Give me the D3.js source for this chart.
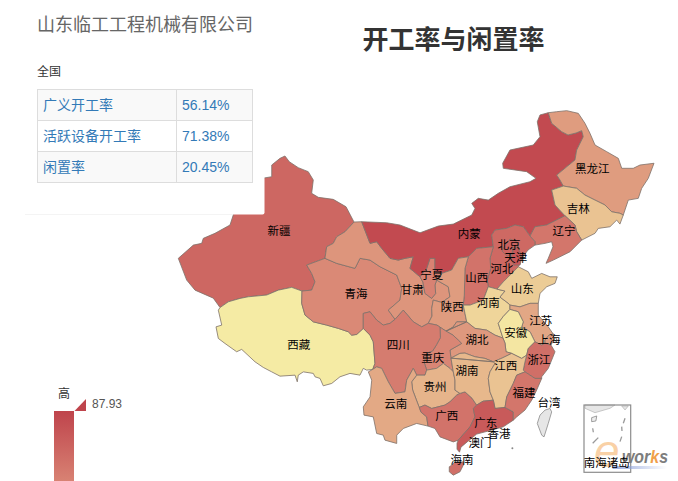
<!DOCTYPE html>
<html lang="zh">
<head>
    <meta charset="UTF-8">
    <title>开工率与闲置率</title>
    <script src="https://d3js.org/d3.v7.min.js"></script>
    <style>
        html, body { margin: 0; padding: 0; background: #fff; overflow: hidden; }
        svg { display: block; }
        text { font-family: "Liberation Sans", "Noto Sans CJK SC", sans-serif; }
    </style>
</head>
<body>
    <div id="chart"></div>

    <script>
        const companyName = "山东临工工程机械有限公司";
        const chartTitle = "开工率与闲置率";
        const scopeLabel = "全国";
        const tableLabels = ["广义开工率", "活跃设备开工率", "闲置率"];
        const tableValues = ["56.14%", "71.38%", "20.45%"];

        const legendMax = 87.93;
        const legendMin = 30;
        const legendColors = ["#f6efa6", "#d88273", "#bf444c"];

        // Shared borders, [lon, lat]
        const xjGs = [[96.24,42.77],[95.08,41.82],[94.0,41.33],[93.56,40.69],[92.71,40.36],[92.49,39.23]];
        const xjQh = [[92.49,39.23],[90.13,38.57],[90.77,37.76],[91.2,36.94],[90.77,36.13],[89.52,36.04]];
        const xjXz = [[89.52,36.04],[88.19,36.4],[86.46,36.13],[84.96,35.65],[82.58,35.48],[81.51,35.32],[80.0,34.99],[78.93,34.43]];
        const xjOuter = [[78.93,34.43],[78.06,35.35],[75.7,36.13],[74.62,37.11],[73.54,39.23],[75.48,40.52],[76.56,40.69],[76.77,41.18],[78.28,41.67],[80.22,42.48],[80.64,43.45],[80.48,45.3],[82.54,45.6],[82.41,47.06],[84.61,47.06],[85.61,47.19],[85.61,48.33],[86.68,48.98],[87.32,49.21],[87.88,48.65],[89.04,48.07],[90.33,47.68],[90.98,46.87],[90.77,45.57],[91.63,45.18],[93.56,44.98],[95.21,44.26],[96.24,42.77]];
        const gsMongolia = [[96.24,42.77],[97.23,42.8]];
        const gsIm = [[97.23,42.8],[98.31,40.69],[99.17,40.85],[99.82,40.2],[100.89,39.23],[101.96,39.06],[102.83,39.23],[103.9,39.38],[103.47,38.25],[104.77,37.43]];
        const imNx = [[104.77,37.43],[105.63,38.25],[106.06,39.23],[106.7,39.23],[106.7,37.92],[107.57,37.76]];
        const gsNx = [[104.77,37.43],[105.15,36.91],[105.41,35.81],[106.28,35.32],[106.79,35.81],[106.7,36.62],[106.92,37.11]];
        const nxSn = [[106.92,37.11],[107.57,37.76]];
        const gsSn = [[106.92,37.11],[108.42,36.46],[108.64,35.48],[107.57,34.93],[106.48,35.16],[106.28,34.35],[106.32,33.6],[105.84,32.89]];
        const gsQh = [[92.49,39.23],[94.0,38.74],[96.37,38.25],[97.01,39.23],[98.31,39.06],[99.6,38.41],[101.76,37.6],[102.4,36.3],[102.18,35.16],[100.67,34.18],[101.54,33.28]];
        const gsSc = [[101.54,33.28],[102.61,34.18],[103.9,33.04],[104.99,32.55],[105.84,32.89]];
        const qhSc = [[101.54,33.28],[100.89,32.89],[100.02,32.72],[99.17,33.21],[98.31,34.02],[97.44,33.86],[97.44,32.4]];
        const qhXz = [[89.52,36.04],[89.48,34.84],[89.91,33.7],[90.98,33.04],[92.71,32.72],[94.21,32.4],[95.5,32.07],[95.94,31.74],[96.59,31.81],[97.44,32.4]];
        const xzSc = [[97.44,32.4],[98.31,31.74],[98.73,31.09],[98.95,28.98],[98.66,28.4]];
        const xzOuter = [[98.66,28.4],[97.88,28.33],[97.44,28.5],[97.01,27.84],[95.72,28.01],[94.43,27.68],[93.36,27.03],[92.27,26.8],[91.85,27.52],[91.2,27.68],[90.98,28.01],[89.69,28.16],[89.04,27.84],[88.91,27.19],[88.62,27.84],[86.68,27.74],[85.61,28.16],[84.52,28.59],[83.45,29.14],[81.73,30.35],[81.08,30.12],[79.57,30.93],[78.71,31.42],[78.41,32.55],[79.15,32.72],[78.71,34.18],[78.93,34.43]];
        const imNorth = [[97.23,42.8],[100.46,42.7],[102.18,42.48],[104.77,41.72],[107.13,42.38],[109.07,42.57],[111.45,43.45],[111.87,44.1],[111.45,44.59],[112.3,45.08],[113.59,44.91],[114.88,45.57],[116.39,46.21],[118.98,46.7],[119.75,47.03],[118.55,47.68],[115.53,48.01],[115.45,48.5],[116.39,49.79],[119.4,50.28],[120.27,51.09],[119.92,52.55],[120.27,53.21],[121.34,53.43]];
        const imHlj = [[121.34,53.43],[121.78,52.4],[123.07,51.58],[123.89,51.26],[124.92,51.45],[125.66,51.68],[125.86,51.09],[125.01,49.79],[124.79,48.82],[122.43,47.35],[122.85,46.87],[123.28,46.28]];
        const imJl = [[123.28,46.28],[121.78,45.89],[122.21,44.43],[123.5,43.38]];
        const imLn = [[123.5,43.38],[121.14,42.48],[119.62,42.31],[118.98,41.4]];
        const imHb = [[118.98,41.4],[118.11,42.31],[117.04,42.48],[115.97,42.15],[114.46,41.99],[114.03,41.5],[114.24,40.36]];
        const imSx = [[114.24,40.36],[112.09,40.2],[111.01,39.38]];
        const imSn = [[111.01,39.38],[109.71,39.23],[108.86,38.09],[107.57,37.76]];
        const hljOuter = [[121.34,53.43],[122.43,53.53],[123.72,53.63],[125.22,53.37],[126.08,52.4],[126.73,51.42],[127.38,50.28],[128.89,49.63],[130.39,48.98],[130.83,48.01],[132.32,48.01],[133.19,48.33],[135.0,48.5],[134.26,47.03],[133.41,46.06],[132.97,45.08],[131.68,44.91],[131.03,43.45]];
        const hljJl = [[131.03,43.45],[130.6,43.62],[129.53,43.77],[128.67,44.43],[127.38,44.91],[126.08,45.4],[125.01,46.06],[123.28,46.28]];
        const jlSea = [[131.03,43.45],[130.6,42.57],[130.18,42.96],[129.31,42.31],[127.8,42.15],[127.38,41.67],[125.66,41.01]];
        const jlLn = [[125.66,41.01],[125.01,41.82],[124.79,42.48],[123.5,43.38]];
        const lnSea = [[125.66,41.01],[124.15,39.87],[121.99,39.06],[121.05,38.74],[121.34,39.23],[121.95,40.36],[121.78,40.85],[120.92,40.69],[119.62,40.52]];
        const lnHb = [[119.62,40.52],[119.62,40.85],[118.98,41.4]];
        const hbSea = [[119.62,40.52],[118.72,40.04],[117.91,39.23],[117.47,38.41]];
        const hbSd = [[117.47,38.41],[115.53,36.94],[114.71,36.23]];
        const hbHn = [[114.71,36.23],[113.59,36.46]];
        const hbSx = [[113.59,36.46],[113.46,37.11],[113.9,38.25],[113.81,39.23],[114.24,40.36]];
        const sxHn = [[113.59,36.46],[112.94,35.16],[111.23,34.67],[110.36,34.67]];
        const sxSn = [[110.36,34.67],[110.49,35.65],[110.58,38.25],[111.01,39.38]];
        const scSn = [[105.84,32.89],[106.96,32.72],[107.35,32.52]];
        const snCq = [[107.35,32.52],[108.13,32.13]];
        const snHb = [[108.13,32.13],[109.03,32.52],[109.51,33.04],[110.8,33.04]];
        const snHn = [[110.8,33.04],[110.58,33.86],[110.36,34.67]];
        const sdHn = [[114.71,36.23],[115.75,36.04],[115.1,35.45],[116.14,34.87],[116.39,34.67]];
        const jsHn = [[116.39,34.67],[116.39,34.25]];
        const ahHn = [[116.39,34.25],[115.49,33.53],[114.88,32.89],[115.49,31.45]];
        const hnHb = [[115.49,31.45],[114.46,31.74],[113.38,32.23],[111.87,32.4],[110.8,33.04]];
        const sdSea = [[117.47,38.41],[118.76,37.92],[119.2,37.28],[120.49,37.76],[121.56,37.43],[122.5,37.43],[122.21,36.79],[121.14,36.46],[120.27,35.81],[120.05,34.84]];
        const sdJs = [[120.05,34.84],[118.98,34.84],[117.69,34.5],[116.39,34.67]];
        const jsSea = [[120.05,34.84],[120.05,33.7],[121.34,32.55],[121.99,31.84]];
        const jsSh = [[121.99,31.84],[121.43,31.74],[120.92,31.26],[120.92,30.96]];
        const jsZj = [[120.92,30.96],[120.49,30.77],[119.62,31.09]];
        const jsAh = [[119.62,31.09],[118.98,32.07],[117.91,32.55],[118.11,33.04],[117.47,34.02],[116.39,34.25]];
        const shSea = [[121.99,31.84],[122.08,31.35],[121.69,30.77],[120.92,30.96]];
        const ahZj = [[119.62,31.09],[118.76,30.45],[118.55,29.79]];
        const ahJx = [[118.55,29.79],[117.91,29.47],[116.61,29.96]];
        const ahHb = [[116.61,29.96],[115.88,30.12],[115.75,30.96],[115.49,31.45]];
        const hbJx = [[116.61,29.96],[115.36,29.5],[114.24,29.14]];
        const hbHun = [[114.24,29.14],[113.16,29.47],[111.87,29.63],[110.58,29.99],[109.93,29.96],[108.77,29.5]];
        const hbCq = [[108.77,29.5],[108.64,30.28],[110.15,30.93],[109.71,31.26],[109.03,31.74],[108.13,32.13]];
        const cqHun = [[108.77,29.5],[109.07,28.16]];
        const cqGz = [[109.07,28.16],[108.64,28.5],[107.78,28.98],[106.92,28.5],[105.63,28.33]];
        const scCq = [[105.63,28.33],[105.3,29.1],[105.7,30.0],[106.4,30.2],[106.9,30.8],[107.4,31.5],[107.35,32.52]];
        const scGz = [[105.63,28.33],[105.41,27.84],[104.34,27.84]];
        const scYn = [[98.66,28.4],[99.17,28.65],[99.82,28.5],[100.67,27.19],[101.54,26.06],[102.83,26.21],[103.05,27.35],[103.9,28.5],[104.34,27.84]];
        const gzHun = [[109.07,28.16],[109.29,27.35],[109.29,26.38],[109.93,26.06]];
        const gzGx = [[109.93,26.06],[109.51,25.89],[108.64,25.24],[108.0,24.92],[106.28,24.59],[105.41,24.92],[104.68,24.69]];
        const gzYn = [[104.68,24.69],[104.55,24.92],[103.82,26.38],[103.69,27.19],[104.34,27.84]];
        const ynGx = [[104.68,24.69],[104.9,24.23],[105.63,23.77],[105.8,22.87]];
        const ynOuter = [[105.8,22.87],[104.34,23.13],[102.61,22.64],[101.76,21.99],[101.76,21.18],[100.24,21.5],[100.02,21.99],[99.17,22.15],[98.73,23.77],[97.53,23.94],[97.44,24.75],[98.31,25.72],[98.53,27.35],[98.09,28.16],[98.66,28.4]];
        const gxHun = [[109.93,26.06],[110.58,26.21],[111.48,25.6],[112.09,24.92]];
        const gxGd = [[112.09,24.92],[111.65,24.59],[111.87,23.77],[111.23,22.8],[109.71,21.5]];
        const gxSea = [[109.71,21.5],[109.07,21.33],[107.35,21.82],[106.7,22.64],[105.8,22.87]];
        const gdHun = [[112.09,24.92],[112.91,25.3],[114.24,25.4]];
        const jxHun = [[114.24,25.4],[113.81,26.21],[113.59,27.52],[113.81,28.16],[114.46,28.98],[114.24,29.14]];
        const jxZj = [[118.55,29.79],[118.33,29.14],[118.11,28.33],[118.33,28.16]];
        const jxFj = [[118.33,28.16],[117.26,27.84],[116.82,27.03],[115.97,25.72],[115.75,24.69]];
        const jxGd = [[115.75,24.69],[114.46,24.59],[114.24,25.4]];
        const fjGd = [[115.75,24.69],[116.82,24.26],[116.82,23.45]];
        const gdSea = [[116.82,23.45],[115.53,22.8],[114.03,22.48],[112.09,22.09],[110.97,21.4],[110.06,20.82],[109.87,20.33],[109.55,20.62],[109.55,21.21],[109.71,21.5]];
        const fjSea = [[116.82,23.45],[117.26,23.77],[118.33,24.43],[119.2,25.4],[119.84,26.38],[120.49,27.52]];
        const fjZj = [[120.49,27.52],[119.62,27.52],[118.33,28.16]];
        const zjSea = [[121.69,30.77],[122.21,30.12],[121.78,29.31],[121.34,28.5],[120.49,27.68],[120.49,27.52]];

        const rev = a => a.slice().reverse();

        const regionNames = ["新疆", "西藏", "青海", "甘肃", "宁夏", "内蒙古", "黑龙江", "吉林", "辽宁", "河北", "北京", "天津", "山西", "陕西", "河南", "山东", "江苏", "上海", "安徽", "浙江", "湖北", "重庆", "四川", "贵州", "云南", "广西", "湖南", "江西", "广东", "福建", "海南", "台湾"];
        const regionValues = [71.7, 31, 57, 54, 59, 85, 52, 41.6, 64.8, 70.5, 73.4, 79, 66, 52, 37, 39.3, 49, 52, 32.3, 67.7, 53, 58, 62, 45.6, 48.5, 66, 44.5, 41.6, 77.5, 64.8, 67.7, null];
        const regionRings = [
            [...xjGs, ...xjQh, ...xjXz, ...xjOuter],
            [...qhXz, ...xzSc, ...xzOuter, ...rev(xjXz)],
            [...gsQh, ...qhSc, ...rev(qhXz), ...rev(xjQh)],
            [...gsMongolia, ...gsIm, ...gsNx, ...gsSn, ...rev(gsSc), ...rev(gsQh), ...rev(xjGs)],
            [...imNx, ...rev(nxSn), ...rev(gsNx)],
            [...imNorth, ...imHlj, ...imJl, ...imLn, ...imHb, ...imSx, ...imSn, ...rev(imNx), ...rev(gsIm)],
            [...hljOuter, ...hljJl, ...rev(imHlj)],
            [...rev(hljJl), ...jlSea, ...jlLn, ...rev(imJl)],
            [...rev(jlLn), ...lnSea, ...lnHb, ...rev(imLn)],
            [...rev(lnHb), ...hbSea, ...hbSd, ...hbHn, ...hbSx, ...rev(imHb)],
            [[115.75,40.52],[116.39,41.11],[117.17,40.91],[117.49,40.33],[116.78,40.23],[116.65,39.65],[116.01,39.45],[115.36,39.94]],
            [[116.78,40.23],[117.3,40.33],[117.69,39.84],[117.91,39.23],[117.69,38.57],[116.91,38.57],[116.52,39.26],[116.78,39.84]],
            [...rev(hbSx), ...sxHn, ...sxSn, ...rev(imSx)],
            [...imSn, ...nxSn, ...gsSn, ...scSn, ...snCq, ...snHb, ...snHn, ...sxSn],
            [...rev(hbHn), ...sdHn, ...jsHn, ...ahHn, ...hnHb, ...snHn, ...rev(sxHn)],
            [...sdSea, ...sdJs, ...rev(sdHn), ...rev(hbSd)],
            [...jsSea, ...jsSh, ...jsZj, ...jsAh, ...rev(jsHn), ...rev(sdJs)],
            [...rev(jsSh), ...shSea],
            [...rev(jsAh), ...ahZj, ...ahJx, ...ahHb, ...rev(ahHn)],
            [...rev(jsZj), ...zjSea, ...fjZj, ...rev(jxZj), ...rev(ahZj)],
            [...rev(ahHb), ...hbJx, ...hbHun, ...hbCq, ...rev(snHb), ...rev(hnHb)],
            [...snCq, ...rev(hbCq), ...cqHun, ...cqGz, ...scCq],
            [...gsSc, ...scSn, ...rev(scCq), ...scGz, ...rev(scYn), ...rev(xzSc), ...rev(qhSc)],
            [...rev(scGz), ...rev(cqGz), ...gzHun, ...gzGx, ...gzYn],
            [...scYn, ...rev(gzYn), ...ynGx, ...ynOuter],
            [...rev(gzGx), ...gxHun, ...gxGd, ...gxSea, ...rev(ynGx)],
            [...rev(hbHun), ...cqHun, ...gzHun, ...gxHun, ...gdHun, ...jxHun],
            [...rev(ahJx), ...jxZj, ...jxFj, ...jxGd, ...jxHun, ...rev(hbJx)],
            [...gdHun, ...rev(jxGd), ...fjGd, ...gdSea, ...rev(gxGd)],
            [...jxFj, ...fjGd, ...fjSea, ...fjZj],
            [[108.86,19.06],[109.29,19.38],[110.36,19.38],[110.36,19.06],[109.93,18.41],[109.07,18.09],[108.55,18.41],[108.55,18.9]],
            [[121.56,24.59],[121.78,24.26],[121.34,23.13],[120.79,21.82],[120.49,21.99],[119.92,23.13],[120.27,23.94],[120.92,24.43]]
        ];

        const labelNames = ["新疆", "西藏", "青海", "甘肃", "内蒙", "黑龙江", "吉林", "辽宁", "北京", "天津", "河北", "山西", "宁夏", "陕西", "河南", "山东", "江苏", "安徽", "上海", "浙江", "江西", "湖北", "湖南", "重庆", "四川", "贵州", "云南", "广西", "广东", "香港", "澳门", "海南", "福建", "台湾", "南海诸岛"];
        const labelLons = [86.55, 89.09, 96.5, 103.77, 111.14, 127.03, 125.22, 123.37, 116.27, 117.13, 115.36, 112.09, 106.28, 108.94, 113.59, 117.98, 120.36, 117.13, 121.43, 120.14, 115.84, 112.13, 110.84, 106.41, 101.96, 106.7, 101.63, 108.22, 113.25, 114.97, 112.52, 110.19, 118.2, 121.43, 128.89];
        const labelLats = [41.89, 30.77, 35.79, 36.13, 41.57, 47.94, 44.07, 41.92, 40.59, 39.32, 38.18, 37.33, 37.6, 34.45, 34.9, 36.23, 33.14, 31.97, 31.32, 29.31, 28.72, 31.26, 28.26, 29.57, 30.77, 26.7, 25.08, 23.87, 23.16, 22.09, 21.21, 19.55, 26.11, 25.14, 19.29];

        // South China Sea inset, [lon, lat]
        const insetLand = [[[105.85,25],[105.85,23.87],[109.39,22.37],[114.7,23.87],[116.45,25]], [[118.82,24.66],[120,23.3],[121.15,24.66]]];
        const insetIsland = [[108.2,20.67],[110,21.25],[109.7,19.54],[108.2,19.3]];
        const insetDashes = [[[108.57,17.05],[108.79,15.68]], [[108.57,11.93],[110.55,13.84]], [[120,20.46],[119.39,18.75]], [[118.82,17.6],[118.93,16.13]], [[118.82,14.18],[118.22,12.47]]];

        const width = 678, height = 481;

        const svg = d3.select("#chart")
            .append("svg")
            .attr("width", width)
            .attr("height", height);

        const x = d3.scaleLinear().domain([73.5, 135]).range([178, 654]);
        const y = d3.scaleLinear().domain([53.5, 18.2]).range([112, 474]);

        const color = d3.scaleLinear()
            .domain([legendMin, (legendMin + legendMax) / 2, legendMax])
            .range(legendColors);

        const ringPath = d3.line().x(d => x(d[0])).y(d => y(d[1])).curve(d3.curveLinearClosed);

        // Map
        svg.append("g")
            .selectAll("path")
            .data(regionRings)
            .join("path")
            .attr("d", d => ringPath(d))
            .attr("fill", (d, i) => regionValues[i] === null ? "#e6e6e6" : color(regionValues[i]))
            .attr("stroke", (d, i) => regionValues[i] === null ? "#8a8a8a" : "#7d716a")
            .attr("stroke-width", 0.8)
            .attr("stroke-linejoin", "round");

        svg.append("circle")
            .attr("cx", x(116.7))
            .attr("cy", y(20.7))
            .attr("r", 1)
            .attr("fill", "#888");

        // Panel sits on top of the map, it cuts off the corner of Xinjiang
        svg.append("rect")
            .attr("x", 0).attr("y", 0)
            .attr("width", 264.5).attr("height", 214.5)
            .attr("rx", 2)
            .attr("fill", "#fff");
        svg.append("line")
            .attr("x1", 25).attr("x2", 233)
            .attr("y1", 214.5).attr("y2", 214.5)
            .attr("stroke", "#f4f4f4");

        svg.append("text")
            .attr("x", 37).attr("y", 31)
            .attr("font-size", 18)
            .attr("fill", "#666")
            .text(companyName);

        svg.append("text")
            .attr("x", 453.5).attr("y", 48.5)
            .attr("text-anchor", "middle")
            .attr("font-size", 26)
            .attr("font-weight", "bold")
            .attr("fill", "#333")
            .text(chartTitle);

        svg.append("text")
            .attr("x", 37).attr("y", 75.5)
            .attr("font-size", 12)
            .attr("fill", "#333")
            .text(scopeLabel);

        // Table
        const rowY = d3.scaleBand().domain(tableLabels).range([89.5, 182.5]);
        const rows = svg.append("g")
            .selectAll("g")
            .data(tableLabels)
            .join("g")
            .attr("transform", d => `translate(0,${rowY(d)})`);
        rows.append("rect")
            .attr("x", 37.5).attr("width", 215)
            .attr("height", rowY.bandwidth())
            .attr("fill", (d, i) => i % 2 === 0 ? "#f9f9f9" : "#fff")
            .attr("stroke", "#ddd");
        rows.append("line")
            .attr("x1", 176.5).attr("x2", 176.5)
            .attr("y1", 0).attr("y2", rowY.bandwidth())
            .attr("stroke", "#ddd");
        rows.append("text")
            .attr("x", 43).attr("y", 20.5)
            .attr("font-size", 14)
            .attr("fill", "#337ab7")
            .text(d => d);
        rows.append("text")
            .attr("x", 182).attr("y", 20.5)
            .attr("font-size", 14)
            .attr("fill", "#337ab7")
            .text((d, i) => tableValues[i]);

        // Colour legend, the bar runs off the bottom of the page
        const legendY = d3.scaleLinear().domain([legendMax, legendMin]).range([411, 551]);
        const grad = svg.append("defs").append("linearGradient")
            .attr("id", "legendGrad")
            .attr("x1", 0).attr("x2", 0).attr("y1", 0).attr("y2", 1);
        grad.selectAll("stop")
            .data([legendMax, (legendMin + legendMax) / 2, legendMin])
            .join("stop")
            .attr("offset", (d, i) => i / 2)
            .attr("stop-color", d => color(d));
        svg.append("rect")
            .attr("x", 54).attr("y", legendY(legendMax))
            .attr("width", 20).attr("height", legendY(legendMin) - legendY(legendMax))
            .attr("fill", "url(#legendGrad)");
        svg.append("path")
            .attr("d", d3.line()([[74.5, legendY(legendMax)], [86, legendY(legendMax)], [86, legendY(legendMax) - 12]]))
            .attr("fill", color(legendMax));
        svg.append("text")
            .attr("x", 64).attr("y", 398)
            .attr("text-anchor", "middle")
            .attr("font-size", 12)
            .attr("fill", "#333")
            .text("高");
        svg.append("text")
            .attr("x", 92).attr("y", 408)
            .attr("font-size", 12)
            .attr("fill", "#555")
            .text(legendMax);

        // Inset box
        const insetX = d3.scaleLinear().domain([105.5, 122]).range([584, 630.7]);
        const insetY = d3.scaleLinear().domain([25, 2]).range([405, 472.3]);
        const insetLine = d3.line().x(d => insetX(d[0])).y(d => insetY(d[1]));
        const inset = svg.append("g");
        inset.selectAll("path.land")
            .data(insetLand)
            .join("path")
            .attr("class", "land")
            .attr("d", d => insetLine(d) + "Z")
            .attr("fill", "#e6e6e6")
            .attr("stroke", "#aaa")
            .attr("stroke-width", 0.6);
        inset.append("path")
            .attr("d", insetLine(insetIsland) + "Z")
            .attr("fill", "#eee")
            .attr("stroke", "#888")
            .attr("stroke-width", 0.8);
        inset.selectAll("path.dash")
            .data(insetDashes)
            .join("path")
            .attr("class", "dash")
            .attr("d", d => insetLine(d))
            .attr("stroke", "#999")
            .attr("stroke-width", 1.3);
        inset.append("rect")
            .attr("x", insetX.range()[0]).attr("y", insetY.range()[0])
            .attr("width", insetX.range()[1] - insetX.range()[0])
            .attr("height", insetY.range()[1] - insetY.range()[0])
            .attr("fill", "none")
            .attr("stroke", "#8c8c8c")
            .attr("stroke-width", 1.2);

        // Watermark
        const swoosh = svg.select("defs").append("linearGradient").attr("id", "swoosh");
        swoosh.append("stop").attr("offset", 0).attr("stop-color", "#8fa3dc").attr("stop-opacity", 0.9);
        swoosh.append("stop").attr("offset", 1).attr("stop-color", "#8fa3dc").attr("stop-opacity", 0);
        svg.append("rect")
            .attr("x", 613).attr("y", 466)
            .attr("width", 54).attr("height", 3)
            .attr("fill", "url(#swoosh)");
        svg.append("text")
            .attr("x", 594).attr("y", 467)
            .attr("font-family", "Liberation Serif")
            .attr("font-style", "italic")
            .attr("font-size", 46)
            .attr("fill", "#f3a34e")
            .attr("fill-opacity", 0.5)
            .text("e");
        const mark = svg.append("text")
            .attr("x", 622).attr("y", 463)
            .attr("font-family", "Liberation Serif")
            .attr("font-style", "italic")
            .attr("font-weight", "bold")
            .attr("font-size", 18)
            .attr("textLength", 46)
            .attr("lengthAdjust", "spacingAndGlyphs")
            .attr("fill", "#7d7d7d");
        mark.append("tspan").text("wor");
        mark.append("tspan").attr("fill", "#f0a04a").text("k");
        mark.append("tspan").text("s");

        // Region labels
        svg.append("g")
            .selectAll("text")
            .data(labelNames)
            .join("text")
            .attr("x", (d, i) => x(labelLons[i]))
            .attr("y", (d, i) => y(labelLats[i]))
            .attr("dy", "0.36em")
            .attr("text-anchor", "middle")
            .attr("font-size", 11.5)
            .attr("fill", "#000")
            .text(d => d);
    </script>
</body>
</html>
